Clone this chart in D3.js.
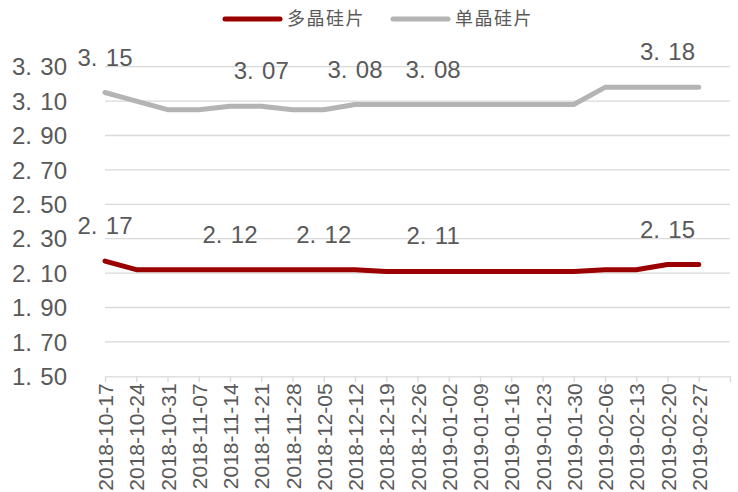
<!DOCTYPE html>
<html>
<head>
<meta charset="utf-8">
<script src="https://cdn.jsdelivr.net/npm/d3@7"></script>
<style>
  html, body { margin: 0; padding: 0; background: #fff; }
  svg { display: block; }
</style>
</head>
<body>
<svg id="chart" width="738" height="492"></svg>
<script>
// Weekly wafer prices (元/片)
const dates = [
  "2018-10-17", "2018-10-24", "2018-10-31", "2018-11-07", "2018-11-14",
  "2018-11-21", "2018-11-28", "2018-12-05", "2018-12-12", "2018-12-19",
  "2018-12-26", "2019-01-02", "2019-01-09", "2019-01-16", "2019-01-23",
  "2019-01-30", "2019-02-06", "2019-02-13", "2019-02-20", "2019-02-27"
];
const multiValues = [2.17, 2.12, 2.12, 2.12, 2.12, 2.12, 2.12, 2.12, 2.12, 2.11,
                     2.11, 2.11, 2.11, 2.11, 2.11, 2.11, 2.12, 2.12, 2.15, 2.15];
const monoValues  = [3.15, 3.10, 3.05, 3.05, 3.07, 3.07, 3.05, 3.05, 3.08, 3.08,
                     3.08, 3.08, 3.08, 3.08, 3.08, 3.08, 3.18, 3.18, 3.18, 3.18];
const seriesNames = ["多晶硅片", "单晶硅片"];
const yTicks = [1.50, 1.70, 1.90, 2.10, 2.30, 2.50, 2.70, 2.90, 3.10, 3.30];
// category positions that carry a value label
const multiLabelAt = [0, 4, 7, 10.5, 18];
const monoLabelAt  = [0, 5, 8, 10.5, 18];

const textColor = "#595959";
const gridColor = "#d9d9d9";
const colors = ["#9a0000", "#b4b4b4"];
const numFont = "'Liberation Sans', Arial, sans-serif";
const cjkFont = "'Noto Sans CJK SC', sans-serif";

const svg = d3.select("#chart");
const margin = { left: 105, right: 8, top: 66.7, bottom: 115.7 };
const W = 738, H = 492;

const x = d3.scaleLinear()
  .domain([0, dates.length])
  .range([margin.left, W - margin.right]);
const y = d3.scaleLinear()
  .domain([1.5, 3.3])
  .range([H - margin.bottom, margin.top]);

// horizontal gridlines
svg.append("g")
  .selectAll("line")
  .data(yTicks.slice(1))
  .join("line")
  .attr("x1", x(0)).attr("x2", x(dates.length))
  .attr("y1", d => y(d)).attr("y2", d => y(d))
  .attr("stroke", gridColor).attr("stroke-width", 1.3);

// number text with a wide gap after the decimal point
function numText(sel, v) {
  const s = d3.format(".2f")(v);
  const [a, b] = s.split(".");
  sel.text(null);
  sel.append("tspan").text(a + ".");
  sel.append("tspan").attr("dx", "0.35em").text(b);
}

// y axis labels
svg.append("g")
  .selectAll("text")
  .data(yTicks)
  .join("text")
  .attr("x", 67)
  .attr("y", d => y(d))
  .attr("dy", "0.36em")
  .attr("text-anchor", "end")
  .attr("font-family", numFont)
  .attr("font-size", 24)
  .attr("fill", textColor)
  .each(function(d) { numText(d3.select(this), d); });

// x axis
const xAxis = d3.axisBottom(x)
  .tickValues(d3.range(0, dates.length + 1))
  .tickFormat(i => dates[i] || "")
  .tickSize(6)
  .tickSizeOuter(0);
const gx = svg.append("g")
  .attr("transform", `translate(0,${y(1.5)})`)
  .call(xAxis);
gx.select(".domain").attr("stroke", gridColor).attr("stroke-width", 1.3);
gx.selectAll(".tick line").attr("stroke", gridColor).attr("stroke-width", 1.3);
gx.selectAll(".tick text")
  .attr("font-family", numFont)
  .attr("font-size", 21)
  .attr("fill", textColor)
  .attr("text-anchor", "end")
  .attr("transform", "rotate(-90)")
  .attr("x", -7)
  .attr("y", 0)
  .attr("dy", "0.36em");

// lines
const line = d3.line()
  .x((d, i) => x(i))
  .y(d => y(d));
const allSeries = [multiValues, monoValues];
svg.append("g")
  .selectAll("path")
  .data(allSeries)
  .join("path")
  .attr("d", d => line(d))
  .attr("fill", "none")
  .attr("stroke", (d, i) => colors[i])
  .attr("stroke-width", 5)
  .attr("stroke-linecap", "round")
  .attr("stroke-linejoin", "round");

// value labels
const labelSets = [
  { values: multiValues, at: multiLabelAt },
  { values: monoValues, at: monoLabelAt }
];
labelSets.forEach(set => {
  svg.append("g")
    .selectAll("text")
    .data(set.at)
    .join("text")
    .attr("x", p => x(p))
    .attr("y", p => y(set.values[Math.floor(p)]) - 27)
    .attr("text-anchor", "middle")
    .attr("font-family", numFont)
    .attr("font-size", 24)
    .attr("fill", textColor)
    .each(function(p) { numText(d3.select(this), set.values[Math.floor(p)]); });
});

// legend
const legendItems = [
  { name: seriesNames[0], color: colors[0], x0: 225 },
  { name: seriesNames[1], color: colors[1], x0: 393 }
];
const lg = svg.append("g");
legendItems.forEach(it => {
  lg.append("line")
    .attr("x1", it.x0).attr("x2", it.x0 + 55)
    .attr("y1", 19).attr("y2", 19)
    .attr("stroke", it.color).attr("stroke-width", 5)
    .attr("stroke-linecap", "round");
  lg.append("text")
    .attr("x", it.x0 + 62).attr("y", 19)
    .attr("dy", "0.36em")
    .attr("font-family", cjkFont)
    .attr("font-size", 18)
    .attr("letter-spacing", 1.5)
    .attr("fill", textColor)
    .text(it.name);
});
</script>
</body>
</html>
